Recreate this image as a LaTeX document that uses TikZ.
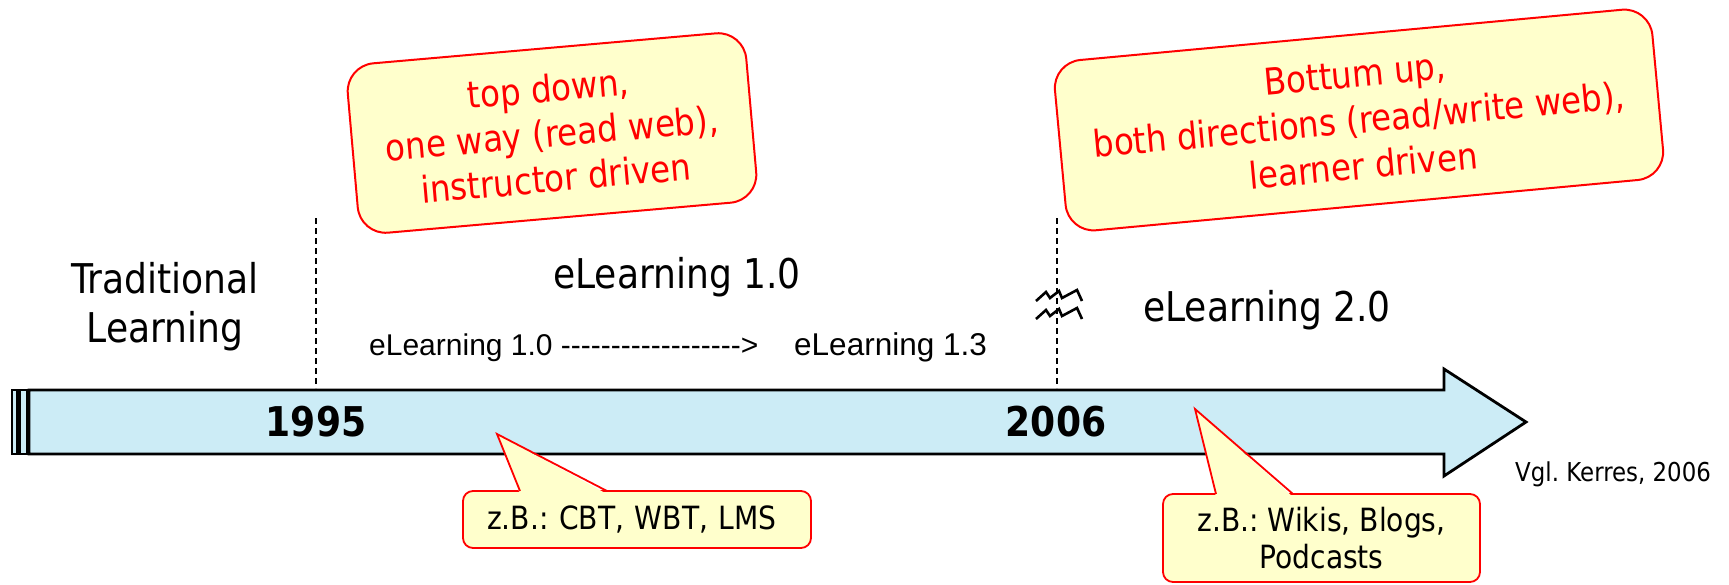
\documentclass[tikz,border=0pt]{standalone}
\usepackage{fontspec}
\setmainfont{DejaVu Sans}[FakeStretch=0.88]
\newfontfamily\arialfont{Liberation Sans}
\usetikzlibrary{positioning}
\frenchspacing

\definecolor{arrowblue}{RGB}{204,236,246}
\definecolor{noteyellow}{RGB}{255,255,204}

\tikzset{
  bigtext/.style={font=\fontsize{41}{49}\selectfont, inner sep=0pt},
  smalltext/.style={font=\arialfont\fontsize{30}{36}\selectfont, inner sep=0pt},
  notebox/.style={draw=red, fill=noteyellow, line width=2pt, rounded corners=28pt,
    text=red, align=center, font=\fontsize{37}{45}\selectfont, inner sep=0pt},
  callbox/.style={draw=red, fill=noteyellow, line width=1.8pt, rounded corners=10pt,
    align=center, font=\fontsize{32}{37}\selectfont, inner sep=0pt, outer sep=0pt},
  pointer/.style={draw=red, line width=1.8pt, line join=miter},
  marker/.style={line width=2.2pt, dash pattern=on 6pt off 4pt},
}

\begin{document}
\begin{tikzpicture}
  \useasboundingbox (0pt,0pt) rectangle (1729pt,-584pt);

  % time arrow
  \draw[line width=2.2pt, fill=arrowblue] (12pt,-390pt) rectangle (17pt,-454pt);
  \draw[line width=2.2pt, fill=arrowblue] (19.5pt,-390pt) rectangle (27.5pt,-454pt);
  \draw[line width=2.8pt, fill=arrowblue, line join=miter]
    (29pt,-390pt) -- (1444pt,-390pt) -- (1444pt,-369pt) -- (1526pt,-422pt)
    -- (1444pt,-476pt) -- (1444pt,-454pt) -- (29pt,-454pt) -- cycle;

  % period borders
  \coordinate (m1995top) at (316pt,-218pt);
  \coordinate (m1995bot) at (316pt,-388pt);
  \coordinate (m2006top) at (1057pt,-218pt);
  \coordinate (m2006bot) at (1057pt,-388pt);
  \draw[marker] (m1995top) -- (m1995bot);
  \draw[marker] (m2006top) -- (m2006bot);

  \foreach \dy in {0,-18}{
    \draw[line width=2.6pt, line join=miter, shift={(0pt,\dy pt)}]
      (1036pt,-301pt) -- (1046pt,-292pt) -- (1050pt,-298pt) -- (1059pt,-291pt)
      -- (1062pt,-298pt) -- (1077pt,-290pt) -- (1082pt,-301pt);
  }

  \node[bigtext, font=\bfseries\fontsize{41}{49}\selectfont] (y1995) at (316pt,-422pt) {1995};
  \node[bigtext, font=\bfseries\fontsize{41}{49}\selectfont] (y2006) at (1056pt,-422pt) {2006};

  \node[bigtext, align=center] (trad) at (165pt,-307pt) {Traditional\\Learning};
  \node[bigtext, anchor=base] (el10) at (677pt,-288pt) {eLearning 1.0};
  \node[bigtext, anchor=base] (el20) at (1267pt,-321pt) {eLearning 2.0};

  \node[smalltext, anchor=base west] (from10) at (369pt,-355pt)
    {eLearning 1.0 ------------------>};
  \node[smalltext, font=\arialfont\fontsize{31.5}{37}\selectfont, anchor=base west]
    (to13) at (794pt,-355pt) {eLearning 1.3};

  \node[font=\fontsize{26}{31}\selectfont, inner sep=0pt, anchor=base west]
    (source) at (1515pt,-481pt) {Vgl. Kerres, 2006};

  % notes
  \node[notebox, rotate=5, minimum width=400pt, minimum height=170pt]
    (topdown) at (552pt,-133pt) {top down,\\one way (read web),\\instructor driven};
  \node[notebox, font=\fontsize{37}{46}\selectfont, rotate=5.3, minimum width=600pt,
    minimum height=171pt] (bottomup) at (1359pt,-120pt)
    {Bottum up,\\both directions (read/write web),\\learner driven};

  % callouts
  \node[callbox, align=left, text width=300pt, inner xsep=24pt, minimum height=57pt]
    (cbt) at (637pt,-519.5pt) {z.B.: CBT, WBT, LMS};
  \coordinate (cbtTip) at (497pt,-434pt);
  \coordinate (cbtL) at ([xshift=57pt]cbt.north west);
  \coordinate (cbtR) at ([xshift=144pt]cbt.north west);
  \fill[noteyellow] ([yshift=-3pt]cbtL) -- (cbtTip) -- ([yshift=-3pt]cbtR) -- cycle;
  \draw[pointer] (cbtL) -- (cbtTip) -- (cbtR);

  \node[callbox, minimum width=317pt, minimum height=88pt]
    (wikis) at (1321.5pt,-538pt) {z.B.: Wikis, Blogs,\\Podcasts};
  \coordinate (wikisTip) at (1195pt,-409pt);
  \coordinate (wikisL) at ([xshift=53pt]wikis.north west);
  \coordinate (wikisR) at ([xshift=130pt]wikis.north west);
  \fill[noteyellow] ([yshift=-3pt]wikisL) -- (wikisTip) -- ([yshift=-3pt]wikisR) -- cycle;
  \draw[pointer] (wikisL) -- (wikisTip) -- (wikisR);
\end{tikzpicture}
\end{document}
